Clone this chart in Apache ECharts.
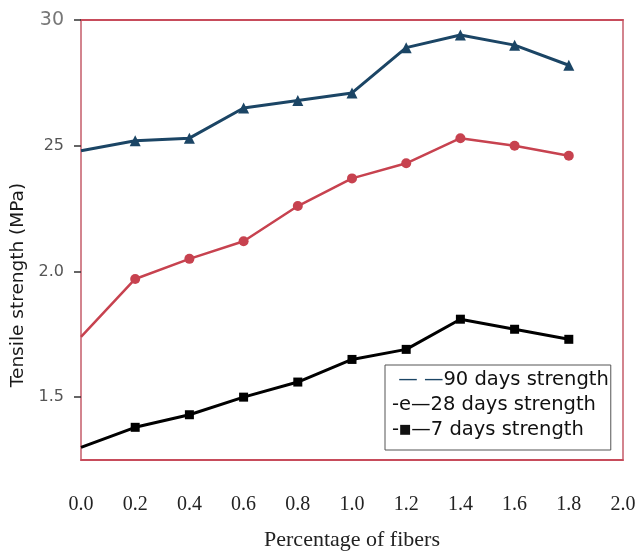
<!DOCTYPE html>
<html>
<head>
<meta charset="utf-8">
<script src="https://cdn.jsdelivr.net/npm/echarts@6/dist/echarts.min.js"></script>
<style>html,body{margin:0;padding:0;background:#fff}#c{width:640px;height:556px}</style>
</head>
<body>
<div id="c"></div>
<script>
// Data
const fiberPct = [0, 0.2, 0.4, 0.6, 0.8, 1.0, 1.2, 1.4, 1.6, 1.8];
const days90 = [2.48, 2.52, 2.53, 2.65, 2.68, 2.71, 2.89, 2.94, 2.90, 2.82];
const days28 = [1.74, 1.97, 2.05, 2.12, 2.26, 2.37, 2.43, 2.53, 2.50, 2.46];
const days7  = [1.30, 1.38, 1.43, 1.50, 1.56, 1.65, 1.69, 1.81, 1.77, 1.73];
const yTickValues = [1.5, 2.0, 2.5, 3.0];
const yTickLabels = ['1.5', '2.0', '25', '30'];
const seriesNames = ['90 days strength', '28 days strength', '7 days strength'];

function pairs(vals) {
  return vals.map((v, i) => i === 0 ? { value: [fiberPct[i], v], symbol: 'none' } : [fiberPct[i], v]);
}

const chart = echarts.init(document.getElementById('c'), null, { renderer: 'canvas' });
chart.setOption({
  animation: false,
  backgroundColor: '#fff',
  grid: { left: 81, right: 17, top: 20, bottom: 96, show: true, borderColor: '#d3848e', borderWidth: 2, backgroundColor: 'transparent' },
  legend: {
    orient: 'vertical',
    left: 385, top: 365,
    padding: [2, 2, 8, 2],
    itemWidth: 0, itemHeight: 0, itemGap: 0,
    borderColor: '#555', borderWidth: 1, backgroundColor: '#fff',
    data: seriesNames.map(n => ({ name: n, icon: 'none' })),
    selectedMode: false,
    textStyle: {
      fontFamily: 'DejaVu Sans', fontSize: 19.5, color: '#111', lineHeight: 25,
      rich: {
        d: { fontFamily: 'DejaVu Sans', fontSize: 19.5, color: '#1b4565', lineHeight: 25 },
        t: { fontFamily: 'DejaVu Sans', fontSize: 19.5, color: '#111', lineHeight: 25 },
        s: { fontFamily: 'DejaVu Sans', fontSize: 13, color: '#111', lineHeight: 25 }
      }
    },
    formatter: function (name) {
      if (name === seriesNames[0]) return '{d| — —}{t|90 days strength}';
      if (name === seriesNames[1]) return '{t|-e—28 days strength}';
      return '{t|-}{s|■}{t|—7 days strength}';
    }
  },
  xAxis: [{
    type: 'value', min: 0, max: 2, interval: 0.2,
    name: 'Percentage of fibers', nameLocation: 'middle', nameGap: 69,
    nameTextStyle: { fontFamily: 'Liberation Serif', fontSize: 22, color: '#222' },
    axisLine: { show: true, onZero: false, lineStyle: { color: '#c43a4b', width: 1.5 } },
    axisTick: { show: false },
    splitLine: { show: false },
    axisLabel: { margin: 35, fontFamily: 'Liberation Serif', fontSize: 20, color: '#222', formatter: v => v.toFixed(1) }
  }, {
    type: 'value', min: 0, max: 2, position: 'top',
    axisLine: { show: true, onZero: false, lineStyle: { color: '#c43a4b', width: 1.5 } },
    axisTick: { show: false }, axisLabel: { show: false }, splitLine: { show: false }
  }],
  yAxis: {
    type: 'value', min: 1.25, max: 3.0, offset: 6,
    name: 'Tensile strength (MPa)', nameLocation: 'middle', nameGap: 43,
    nameTextStyle: { fontFamily: 'DejaVu Sans', fontSize: 18.5, color: '#1a1a1a', padding: [0, 90, 0, 0] },
    axisLine: { show: false },
    axisTick: { show: true, customValues: yTickValues, length: 7, lineStyle: { color: '#333', width: 1.5 } },
    splitLine: { show: false },
    axisLabel: {
      customValues: yTickValues, margin: 11, fontFamily: 'DejaVu Sans', fontSize: 16, color: '#555',
      rich: { big: { fontFamily: 'DejaVu Sans', fontSize: 19, color: '#777' } },
      formatter: function (v) {
        const i = yTickValues.findIndex(t => Math.abs(t - v) < 1e-6);
        if (i < 0) return '';
        return i === yTickValues.length - 1 ? '{big|' + yTickLabels[i] + '}' : yTickLabels[i];
      }
    }
  },
  series: [{
    name: seriesNames[0], type: 'line', data: pairs(days90),
    symbol: 'triangle', symbolSize: 11,
    itemStyle: { color: '#1b4565' }, lineStyle: { color: '#1b4565', width: 3 }
  }, {
    name: seriesNames[1], type: 'line', data: pairs(days28),
    symbol: 'circle', symbolSize: 10,
    itemStyle: { color: '#c7424f' }, lineStyle: { color: '#c7424f', width: 2.5 }
  }, {
    name: seriesNames[2], type: 'line', data: pairs(days7),
    symbol: 'rect', symbolSize: 9,
    itemStyle: { color: '#000' }, lineStyle: { color: '#000', width: 3 }
  }]
});
</script>
</body>
</html>
